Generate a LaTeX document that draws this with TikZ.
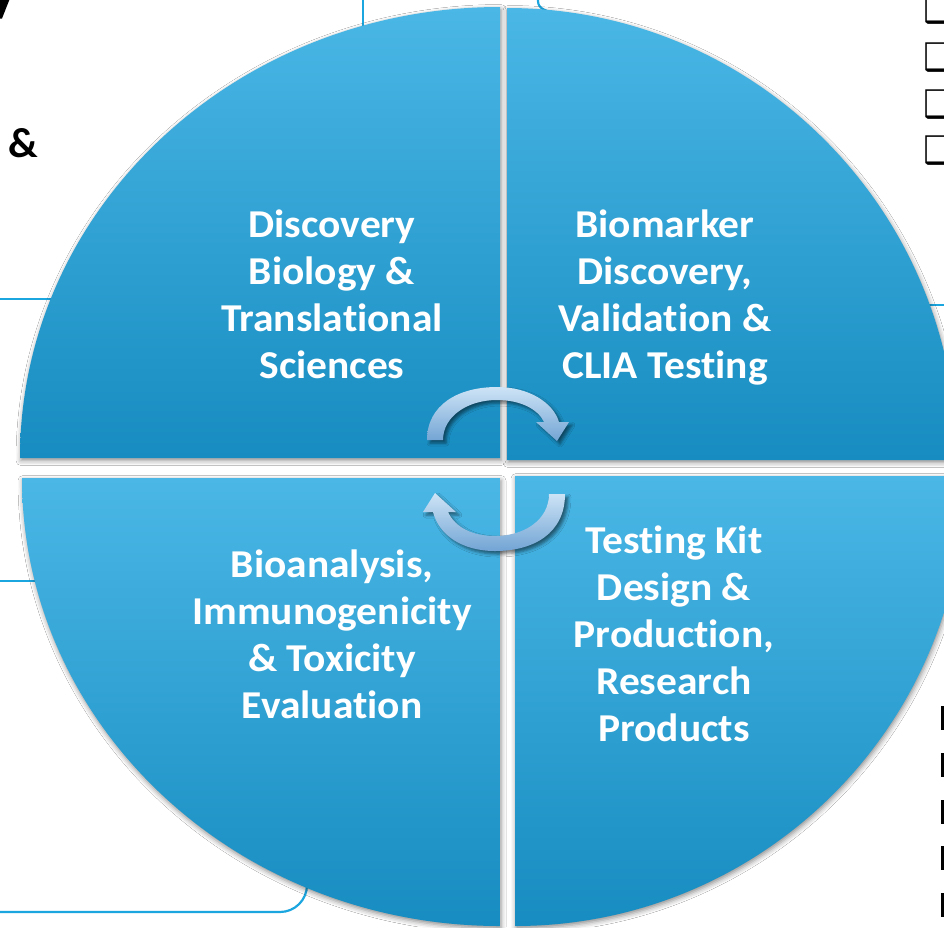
\documentclass[tikz,border=0pt]{standalone}
\usepackage{fontspec}
\setmainfont{Carlito}
\newfontfamily\lblfont[FakeStretch=1.05, Ligatures=NoCommon]{Carlito}
\newfontfamily\symfont{DejaVu Sans}
\usetikzlibrary{shadows.blur}
\definecolor{qlight}{RGB}{74,183,230}
\definecolor{qdark}{RGB}{23,140,192}
\definecolor{alight}{RGB}{206,228,246}
\definecolor{adark}{RGB}{114,164,212}
\definecolor{boxline}{RGB}{27,166,224}
\tikzset{
  quad/.style={top color=qlight, bottom color=qdark,
    blur shadow={shadow xshift=1pt, shadow yshift=-2.5pt, shadow blur radius=5pt, shadow opacity=45}},
  cyc/.style={top color=alight, bottom color=adark,
    blur shadow={shadow xshift=3pt, shadow yshift=-3pt, shadow blur radius=3pt, shadow opacity=50}},
  lbl/.style={text=white, font=\lblfont\bfseries\fontsize{39.5}{47}\selectfont, align=center, anchor=base, inner sep=0pt},
  bgline/.style={draw=boxline, line width=2.2pt},
  chk/.style={font=\symfont\fontsize{38}{38}\selectfont, anchor=base west, inner sep=0pt},
  bar/.style={fill=black, draw=none},
}
\begin{document}
\begin{tikzpicture}[x=1pt,y=-1pt]
\useasboundingbox[fill=white] (0,0) rectangle (944,927);
% background fragments
\fill[black] (0,0) -- (9.3,0) -- (2,18.5) -- (0,18.5) -- cycle;
\node[font=\bfseries\fontsize{42}{42}\selectfont, anchor=base west, inner sep=0pt] (amp) at (8,157) {\&};
\draw[bgline] (363,-5) -- (363,60);
\draw[bgline] (538,-5) -- (538,1) to[out=270,in=160] (556,14) -- (600,30);
\draw[bgline] (-10,299) -- (100,299);
\draw[bgline] (-10,581) -- (100,581);
\draw[bgline, rounded corners=27pt] (-10,912) -- (307,912) -- (307,800);
\draw[bgline] (900,305) -- (960,305);
\node[chk] (c1) at (923,22) {❑};
\node[chk] (c2) at (923,70) {❑};
\node[chk] (c3) at (923,117) {❑};
\node[chk] (c4) at (923,163) {❑};
\foreach \yy in {706,753,800,846,893}{
  \fill[bar] (941,\yy) rectangle (950,\yy+24);
}
% quadrants
\path[quad] (500,458) -- (20,458) arc[start angle=180, end angle=270, x radius=480, y radius=451] -- cycle;
\path[quad] (507,460) -- (507,8) arc[start angle=270, end angle=360, x radius=450, y radius=452] -- cycle;
\path[quad] (500,478) -- (22,478) arc[start angle=180, end angle=90, x radius=478, y radius=448] -- cycle;
\path[quad] (515,476) -- (965,476) arc[start angle=0, end angle=90, x radius=450, y radius=450] -- cycle;
% labels (base anchor = baseline of last line)
\node[lbl] (tl) at (332,378) {Discovery\\Biology \&\\Translational\\Sciences};
\node[lbl] (tr) at (665,378) {Biomarker\\Discovery,\\Validation \&\\CLIA Testing};
\node[lbl] (bl) at (332,718) {Bioanalysis,\\Immunogenicity\\\& Toxicity\\Evaluation};
\node[lbl] (br) at (674,741) {Testing Kit\\Design \&\\Production,\\Research\\Products};
% cycle arrows
\path[cyc] (427,440) .. controls (427,405) and (458,387) .. (497,387)
  .. controls (528,387) and (553,402) .. (559,422) -- (569,422) -- (557,441) -- (536,422) -- (544,422)
  .. controls (538,409) and (520,400) .. (497,400)
  .. controls (468,400) and (443,416) .. (443,440) -- cycle;
\path[cyc] (565,494) .. controls (565,533) and (534,551) .. (495,551)
  .. controls (462,551) and (439,535) .. (433,512) -- (423,512) -- (435,493) -- (456,512) -- (448,512)
  .. controls (455,527) and (472,536) .. (495,536)
  .. controls (524,536) and (549,520) .. (549,494) -- cycle;
\end{tikzpicture}
\end{document}
